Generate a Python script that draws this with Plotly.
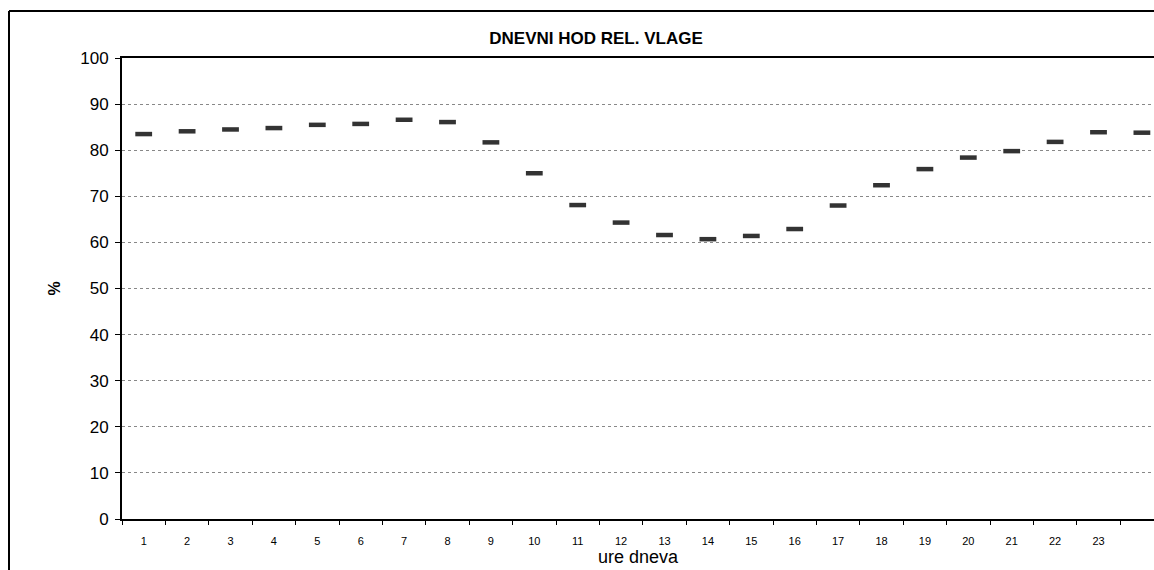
"""Daily course of relative humidity, hour-by-hour mean values."""
import plotly.graph_objects as go

hours = list(range(1, 25))
humidity = [83.5, 84.1, 84.5, 84.8, 85.5, 85.7, 86.6, 86.1, 81.7, 75.0, 68.1, 64.3,
            61.6, 60.7, 61.4, 62.9, 68.0, 72.4, 75.9, 78.4, 79.8, 81.8, 83.9, 83.8]
hour_labels = [str(h) for h in range(1, 24)]

W, H = 1154, 570
L, T, B = 122, 58, 51

fig = go.Figure()
fig.add_trace(go.Scatter(
    x=hours,
    y=humidity,
    mode="markers",
    marker=dict(symbol="line-ew", size=12, color="#333333",
                line=dict(color="#333333", width=4.5)),
    hoverinfo="x+y",
    showlegend=False,
))

# outer chart border: only left and top edges are inside the window
plot_w = W - L
plot_h = H - T - B
bx = (9 - L) / plot_w
by = 1 + (T - 11) / plot_h
for x0, y0, x1, y1 in [(bx, -0.3, bx, by), (bx, by, 1.2, by)]:
    fig.add_shape(type="line", xref="paper", yref="paper",
                  x0=x0, y0=y0, x1=x1, y1=y1,
                  line=dict(color="black", width=2), layer="above")

fig.update_layout(
    width=W, height=H,
    margin=dict(l=L, r=0, t=T, b=B),
    paper_bgcolor="white",
    plot_bgcolor="white",
    font=dict(family="Arial, Liberation Sans, sans-serif", color="black"),
    title=dict(text="<b>DNEVNI HOD REL. VLAGE</b>", x=596 / W, xanchor="center",
               y=1 - 38 / H, yanchor="middle", font=dict(size=17)),
    xaxis=dict(
        range=[0.5, 0.5 + plot_w / 43.4],
        tickmode="array", tickvals=list(range(1, 24)), ticktext=hour_labels,
        ticks="outside", ticklen=11, tickcolor="rgba(0,0,0,0)",
        tickfont=dict(size=11),
        minor=dict(tick0=0.5, dtick=1, ticks="outside", ticklen=4,
                   tickcolor="black", tickwidth=1),
        showgrid=False, zeroline=False,
        showline=True, linecolor="black", linewidth=2, mirror=True,
        title=dict(text="ure dneva", font=dict(size=18), standoff=2),
    ),
    yaxis=dict(
        range=[0, 100], dtick=10,
        ticks="outside", ticklen=5, tickcolor="black", tickwidth=1,
        tickfont=dict(size=17), ticklabelstandoff=3,
        showgrid=True, gridcolor="#888888", griddash="dot", gridwidth=1,
        zeroline=False,
        showline=True, linecolor="black", linewidth=2, mirror=False,
        title=dict(text="<b>%</b>", font=dict(size=16), standoff=16),
    ),
)

# drop the default page margin so the figure fills the window exactly
fig.write_html(
    "out.html",
    config={"displayModeBar": False},
    post_script="document.body.style.margin='0';document.body.style.overflow='hidden';",
)
